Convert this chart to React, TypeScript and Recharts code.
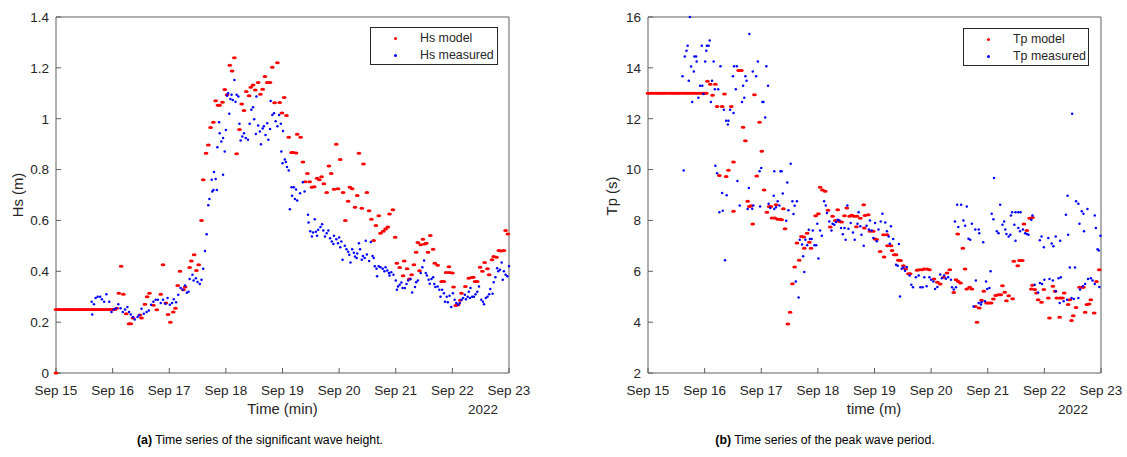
import { ScatterChart, Scatter, XAxis, YAxis } from "recharts";

// x values are days after Sep 15 00:00 (2022)
const DAY_TICKS = [0, 1, 2, 3, 4, 5, 6, 7, 8];
const DAY_LABELS = ["Sep 15", "Sep 16", "Sep 17", "Sep 18", "Sep 19", "Sep 20", "Sep 21", "Sep 22", "Sep 23"];
const HS_TICKS = [0, 0.2, 0.4, 0.6, 0.8, 1, 1.2, 1.4];
const TP_TICKS = [2, 4, 6, 8, 10, 12, 14, 16];

const hsModel: [number, number][] = [
  [0, 0], [0, 0.25], [0.04, 0.25], [0.08, 0.25], [0.13, 0.25], [0.17, 0.25], [0.21, 0.25], [0.25, 0.25], [0.29, 0.25],
  [0.33, 0.25], [0.38, 0.25], [0.42, 0.25], [0.46, 0.25], [0.5, 0.25], [0.54, 0.25], [0.58, 0.25], [0.63, 0.25],
  [0.67, 0.25], [0.71, 0.25], [0.75, 0.25], [0.79, 0.25], [0.83, 0.25], [0.88, 0.25], [0.92, 0.25], [0.96, 0.25],
  [1.0, 0.25], [1.04, 0.25], [1.07, 0.255], [1.11, 0.314], [1.15, 0.42], [1.19, 0.31], [1.24, 0.233], [1.29, 0.194],
  [1.32, 0.194], [1.36, 0.216], [1.48, 0.228], [1.51, 0.216], [1.57, 0.27], [1.61, 0.3], [1.65, 0.314], [1.72, 0.266],
  [1.78, 0.249], [1.85, 0.31], [1.89, 0.426], [1.94, 0.275], [1.98, 0.23], [2.02, 0.2], [2.07, 0.24], [2.11, 0.255],
  [2.15, 0.344], [2.19, 0.4], [2.25, 0.327], [2.28, 0.338], [2.36, 0.415], [2.39, 0.44], [2.44, 0.465], [2.48, 0.403],
  [2.52, 0.426], [2.57, 0.6], [2.6, 0.76], [2.65, 0.864], [2.69, 0.897], [2.73, 0.965], [2.78, 0.986], [2.82, 1.071],
  [2.86, 1.053], [2.89, 1.053], [2.94, 1.065], [2.98, 1.115], [3.02, 1.094], [3.07, 1.21], [3.11, 1.188], [3.15, 1.24],
  [3.19, 0.862], [3.24, 0.958], [3.28, 1.058], [3.32, 1.032], [3.36, 1.107], [3.41, 1.09], [3.44, 1.124], [3.48, 1.133],
  [3.52, 1.113], [3.57, 1.142], [3.61, 1.096], [3.65, 1.116], [3.69, 1.166], [3.73, 1.142], [3.78, 1.142], [3.82, 1.202],
  [3.86, 1.063], [3.91, 1.22], [3.95, 1.064], [3.99, 1.022], [4.03, 1.083], [4.07, 1.013], [4.11, 0.927], [4.16, 0.867],
  [4.19, 0.867], [4.24, 0.865], [4.26, 0.939], [4.32, 0.927], [4.36, 0.83], [4.4, 0.752], [4.44, 0.785], [4.48, 0.752],
  [4.52, 0.73], [4.56, 0.732], [4.61, 0.766], [4.65, 0.76], [4.69, 0.772], [4.73, 0.744], [4.78, 0.71], [4.82, 0.814],
  [4.86, 0.785], [4.91, 0.723], [4.95, 0.9], [4.98, 0.725], [5.02, 0.84], [5.07, 0.71], [5.11, 0.6], [5.16, 0.675],
  [5.19, 0.73], [5.23, 0.725], [5.28, 0.652], [5.32, 0.698], [5.35, 0.864], [5.4, 0.648], [5.43, 0.822], [5.49, 0.71],
  [5.53, 0.638], [5.57, 0.605], [5.61, 0.521], [5.65, 0.58], [5.7, 0.618], [5.73, 0.55], [5.78, 0.557], [5.82, 0.566],
  [5.86, 0.574], [5.89, 0.625], [5.95, 0.642], [5.99, 0.534], [6.02, 0.432], [6.07, 0.415], [6.13, 0.382], [6.15, 0.44],
  [6.2, 0.41], [6.24, 0.37], [6.28, 0.386], [6.32, 0.426], [6.36, 0.475], [6.39, 0.513], [6.42, 0.402], [6.44, 0.504],
  [6.48, 0.526], [6.51, 0.507], [6.54, 0.51], [6.57, 0.475], [6.61, 0.541], [6.66, 0.487], [6.69, 0.432], [6.74, 0.424],
  [6.81, 0.36], [6.85, 0.36], [6.89, 0.395], [6.94, 0.418], [6.95, 0.395], [7.0, 0.393], [7.02, 0.338], [7.06, 0.265],
  [7.1, 0.268], [7.14, 0.286], [7.16, 0.314], [7.23, 0.34], [7.29, 0.373], [7.34, 0.376], [7.37, 0.377], [7.4, 0.36],
  [7.44, 0.36], [7.49, 0.416], [7.53, 0.4], [7.57, 0.435], [7.62, 0.41], [7.65, 0.386], [7.7, 0.445], [7.73, 0.458],
  [7.78, 0.455], [7.82, 0.482], [7.86, 0.48], [7.91, 0.482], [7.94, 0.56], [7.98, 0.547],
];

const hsMeasured: [number, number][] = [
  [0.63, 0.28], [0.64, 0.23], [0.67, 0.27], [0.7, 0.295], [0.735, 0.3], [0.78, 0.3], [0.81, 0.29], [0.85, 0.28],
  [0.89, 0.31], [0.94, 0.28], [0.98, 0.24], [1.02, 0.25], [1.06, 0.255], [1.1, 0.27], [1.14, 0.255], [1.18, 0.24],
  [1.22, 0.25], [1.26, 0.26], [1.29, 0.24], [1.32, 0.23], [1.36, 0.22], [1.39, 0.21], [1.44, 0.22], [1.47, 0.227],
  [1.51, 0.253], [1.55, 0.233], [1.6, 0.24], [1.64, 0.246], [1.68, 0.268], [1.72, 0.28], [1.76, 0.288], [1.8, 0.288],
  [1.85, 0.275], [1.89, 0.288], [1.93, 0.272], [1.97, 0.295], [2.01, 0.268], [2.05, 0.275], [2.08, 0.29], [2.12, 0.278],
  [2.16, 0.308], [2.2, 0.334], [2.24, 0.327], [2.28, 0.344], [2.31, 0.316], [2.34, 0.32], [2.36, 0.37], [2.41, 0.386],
  [2.43, 0.364], [2.47, 0.373], [2.5, 0.358], [2.54, 0.35], [2.57, 0.367], [2.6, 0.41], [2.63, 0.48], [2.66, 0.546],
  [2.69, 0.66], [2.71, 0.684], [2.75, 0.76], [2.76, 0.714], [2.78, 0.72], [2.79, 0.79], [2.82, 0.763], [2.84, 0.72],
  [2.85, 0.888], [2.88, 0.986], [2.89, 0.943], [2.92, 0.91], [2.95, 0.924], [2.95, 0.78], [2.98, 0.871], [3.0, 0.956],
  [3.02, 1.09], [3.04, 1.1], [3.06, 1.02], [3.08, 1.078], [3.1, 1.094], [3.12, 1.074], [3.15, 1.152], [3.17, 1.067],
  [3.19, 1.094], [3.22, 1.087], [3.24, 0.98], [3.26, 0.914], [3.29, 0.93], [3.32, 0.943], [3.35, 0.924], [3.39, 0.917],
  [3.42, 0.98], [3.45, 1.035], [3.48, 1.045], [3.5, 0.998], [3.53, 0.94], [3.54, 1.087], [3.57, 0.973], [3.6, 0.95],
  [3.62, 0.9], [3.65, 0.962], [3.67, 0.97], [3.7, 0.936], [3.73, 0.982], [3.75, 0.917], [3.78, 0.96], [3.79, 1.07],
  [3.82, 1.015], [3.85, 1.021], [3.88, 0.99], [3.91, 0.97], [3.94, 1.015], [3.97, 0.98], [3.98, 0.871], [4.0, 0.825],
  [4.01, 0.952], [4.04, 0.84], [4.06, 0.83], [4.08, 0.81], [4.11, 0.796], [4.13, 0.644], [4.16, 0.73], [4.17, 0.697],
  [4.2, 0.73], [4.22, 0.684], [4.24, 0.722], [4.26, 0.678], [4.31, 0.707], [4.36, 0.75], [4.39, 0.714], [4.45, 0.622],
  [4.46, 0.592], [4.49, 0.557], [4.52, 0.537], [4.54, 0.553], [4.57, 0.605], [4.59, 0.555], [4.61, 0.54], [4.63, 0.563],
  [4.67, 0.574], [4.7, 0.585], [4.72, 0.56], [4.75, 0.537], [4.78, 0.55], [4.81, 0.56], [4.84, 0.53], [4.87, 0.517],
  [4.9, 0.507], [4.91, 0.54], [4.95, 0.526], [4.98, 0.51], [5.0, 0.533], [5.02, 0.495], [5.04, 0.517], [5.06, 0.445],
  [5.1, 0.5], [5.13, 0.487], [5.16, 0.477], [5.18, 0.465], [5.2, 0.435], [5.23, 0.487], [5.26, 0.473], [5.28, 0.458],
  [5.31, 0.452], [5.32, 0.47], [5.35, 0.51], [5.37, 0.487], [5.4, 0.445], [5.42, 0.46], [5.45, 0.452], [5.47, 0.52],
  [5.49, 0.466], [5.53, 0.44], [5.56, 0.515], [5.59, 0.46], [5.61, 0.452], [5.63, 0.42], [5.66, 0.41], [5.67, 0.38],
  [5.7, 0.42], [5.73, 0.416], [5.77, 0.41], [5.8, 0.4], [5.82, 0.416], [5.85, 0.403], [5.88, 0.393], [5.89, 0.383],
  [5.92, 0.396], [5.96, 0.386], [6.0, 0.364], [6.02, 0.327], [6.04, 0.34], [6.07, 0.347], [6.1, 0.356], [6.12, 0.334],
  [6.16, 0.334], [6.19, 0.35], [6.22, 0.364], [6.26, 0.37], [6.29, 0.317], [6.34, 0.338], [6.36, 0.357], [6.39, 0.364],
  [6.44, 0.393], [6.47, 0.416], [6.5, 0.442], [6.53, 0.393], [6.55, 0.383], [6.58, 0.367], [6.6, 0.351], [6.63, 0.37],
  [6.66, 0.377], [6.68, 0.35], [6.7, 0.338], [6.74, 0.34], [6.77, 0.327], [6.79, 0.3], [6.82, 0.327], [6.85, 0.314],
  [6.87, 0.28], [6.9, 0.3], [6.92, 0.278], [6.95, 0.304], [6.98, 0.26], [7.01, 0.314], [7.04, 0.288], [7.07, 0.275],
  [7.1, 0.268], [7.13, 0.275], [7.16, 0.288], [7.19, 0.295], [7.22, 0.308], [7.24, 0.29], [7.27, 0.3], [7.29, 0.32],
  [7.31, 0.295], [7.32, 0.334], [7.35, 0.3], [7.38, 0.3], [7.41, 0.31], [7.44, 0.32], [7.47, 0.34], [7.51, 0.288],
  [7.54, 0.28], [7.56, 0.27], [7.59, 0.295], [7.62, 0.3], [7.65, 0.31], [7.67, 0.33], [7.71, 0.312], [7.73, 0.357],
  [7.76, 0.377], [7.79, 0.412], [7.81, 0.4], [7.84, 0.406], [7.87, 0.435], [7.89, 0.367], [7.91, 0.4], [7.94, 0.386],
  [7.97, 0.38], [8.0, 0.42],
];

const tpModel: [number, number][] = [
  [0, 13], [0.04, 13], [0.08, 13], [0.13, 13], [0.17, 13], [0.21, 13], [0.25, 13], [0.29, 13], [0.33, 13], [0.38, 13],
  [0.42, 13], [0.46, 13], [0.5, 13], [0.54, 13], [0.58, 13], [0.63, 13], [0.67, 13], [0.71, 13], [0.75, 13], [0.79, 13],
  [0.83, 13], [0.88, 13], [0.92, 13], [0.96, 13], [1.0, 13], [1.03, 13],
  [1.05, 13.47], [1.1, 13.36], [1.14, 12.92], [1.19, 13.36], [1.22, 12.48], [1.26, 9.77], [1.31, 12.48], [1.35, 12.97],
  [1.38, 9.73], [1.42, 9.97], [1.47, 12.48], [1.51, 10.3], [1.51, 8.36], [1.6, 13.9], [1.65, 13.9], [1.68, 11.66],
  [1.72, 11.13], [1.76, 8.75], [1.79, 8.55], [1.82, 8.58], [1.85, 7.86], [1.88, 12.94], [1.92, 9.75], [1.97, 11.86],
  [2.01, 10.72], [2.05, 9.2], [2.1, 8.32], [2.14, 8.55], [2.17, 8.55], [2.19, 8.1], [2.24, 8.1], [2.26, 8.62],
  [2.29, 8.05], [2.34, 8.05], [2.36, 8.03], [2.39, 8.46], [2.42, 7.67], [2.47, 3.93], [2.51, 4.39], [2.55, 5.51],
  [2.59, 6.17], [2.63, 7.11], [2.67, 6.43], [2.71, 7.37], [2.75, 7.35], [2.76, 6.91], [2.81, 7.5], [2.85, 7.14],
  [2.88, 6.91], [2.96, 8.18], [3.01, 8.26], [3.04, 9.3], [3.08, 9.2], [3.13, 9.15], [3.18, 8.4], [3.22, 7.74],
  [3.26, 8.16], [3.31, 8.0], [3.35, 8.42], [3.38, 7.96], [3.42, 7.94], [3.47, 8.18], [3.51, 8.49], [3.56, 8.16],
  [3.6, 8.2], [3.64, 8.16], [3.68, 7.75], [3.69, 8.16], [3.75, 8.09], [3.81, 8.62], [3.82, 7.7], [3.83, 8.19],
  [3.89, 8.22], [3.92, 7.57], [3.98, 7.57], [4.01, 7.27], [4.04, 7.25], [4.1, 6.78], [4.16, 7.44], [4.17, 6.56],
  [4.22, 7.44], [4.23, 7.0], [4.29, 7.0], [4.31, 6.82], [4.35, 6.65], [4.38, 6.65], [4.42, 6.43], [4.46, 6.42],
  [4.51, 6.22], [4.55, 6.09], [4.6, 5.9], [4.63, 5.9], [4.75, 6.04], [4.79, 6.06], [4.84, 6.06], [4.88, 6.09],
  [4.93, 6.09], [4.97, 6.06], [5.05, 5.7], [5.11, 5.57], [5.16, 5.5], [5.22, 5.77], [5.28, 5.93], [5.33, 6.06],
  [5.4, 5.17], [5.44, 5.67], [5.47, 7.47], [5.48, 5.6], [5.52, 5.54], [5.56, 6.91], [5.6, 6.09], [5.63, 5.3],
  [5.68, 5.37], [5.72, 5.3], [5.78, 4.62], [5.81, 4.0], [5.85, 4.56], [5.89, 4.86], [5.93, 5.21], [5.98, 4.75],
  [6.02, 4.75], [6.06, 4.75], [6.1, 4.91], [6.14, 5.05], [6.19, 5.08], [6.23, 5.08], [6.26, 5.43], [6.3, 5.18],
  [6.33, 4.84], [6.37, 5.04], [6.44, 4.92], [6.46, 6.39], [6.53, 6.22], [6.56, 6.42], [6.61, 6.42], [6.64, 7.86],
  [6.69, 7.6], [6.74, 8.09], [6.77, 5.3], [6.79, 8.12], [6.79, 5.45], [6.83, 5.28], [6.86, 5.15], [6.89, 4.88],
  [6.95, 4.78], [6.99, 5.28], [7.07, 4.95], [7.09, 4.16], [7.15, 5.41], [7.19, 5.21], [7.22, 4.95], [7.27, 4.19],
  [7.28, 4.95], [7.32, 4.95], [7.35, 5.15], [7.42, 4.69], [7.45, 4.88], [7.48, 4.06], [7.51, 4.25], [7.56, 4.58],
  [7.62, 5.37], [7.66, 5.37], [7.69, 5.37], [7.72, 4.39], [7.75, 4.69], [7.79, 4.71], [7.82, 4.88], [7.88, 4.36],
  [7.92, 5.6], [7.97, 6.06],
];

const tpMeasured: [number, number][] = [
  [0.61, 13.67], [0.63, 9.96], [0.65, 14.45], [0.68, 14.67], [0.7, 14.87], [0.72, 13.49], [0.74, 16.0], [0.76, 14.05],
  [0.78, 12.66], [0.81, 13.86], [0.82, 14.45], [0.85, 14.45], [0.86, 14.25], [0.89, 12.82], [0.92, 13.3], [0.95, 14.87],
  [0.96, 13.3], [0.98, 12.97], [1.01, 14.25], [1.03, 14.67], [1.04, 14.87], [1.07, 14.87], [1.09, 15.08], [1.11, 12.66],
  [1.13, 13.49], [1.16, 14.25], [1.18, 13.16], [1.19, 10.15], [1.22, 9.86], [1.24, 13.16], [1.26, 8.32], [1.28, 14.06],
  [1.31, 9.08], [1.32, 8.38], [1.34, 12.35], [1.36, 6.43], [1.38, 11.92], [1.39, 8.99], [1.41, 11.77], [1.42, 11.92],
  [1.45, 12.35], [1.5, 13.67], [1.51, 12.22], [1.52, 14.06], [1.55, 13.16], [1.57, 14.06], [1.58, 9.55], [1.62, 8.59],
  [1.66, 12.66], [1.68, 13.3], [1.7, 12.82], [1.72, 13.67], [1.74, 13.49], [1.76, 8.45], [1.78, 9.28], [1.79, 15.33],
  [1.84, 8.46], [1.85, 13.86], [1.86, 8.59], [1.91, 13.67], [1.94, 14.25], [1.97, 9.93], [1.98, 8.55], [2.0, 10.06],
  [2.02, 12.66], [2.04, 12.66], [2.07, 12.05], [2.09, 14.06], [2.12, 13.3], [2.13, 8.66], [2.16, 8.49], [2.22, 8.97],
  [2.23, 9.93], [2.23, 8.45], [2.26, 8.52], [2.29, 8.75], [2.32, 8.59], [2.34, 9.93], [2.36, 9.93], [2.38, 9.06],
  [2.44, 7.99], [2.46, 9.49], [2.48, 8.4], [2.52, 10.23], [2.55, 8.75], [2.57, 8.25], [2.59, 8.58], [2.61, 5.6],
  [2.63, 8.75], [2.66, 4.97], [2.68, 7.24], [2.72, 7.05], [2.74, 6.59], [2.76, 5.97], [2.78, 7.24], [2.81, 7.02],
  [2.84, 7.63], [2.86, 7.27], [2.89, 7.27], [2.91, 7.6], [2.94, 7.02], [2.97, 7.02], [2.99, 7.87], [3.01, 6.5],
  [3.04, 7.6], [3.07, 7.4], [3.11, 8.75], [3.14, 8.59], [3.16, 8.29], [3.2, 7.96], [3.24, 7.6], [3.26, 7.87],
  [3.29, 7.83], [3.32, 7.94], [3.35, 8.03], [3.38, 8.0], [3.41, 7.7], [3.44, 7.46], [3.47, 7.7], [3.49, 7.24],
  [3.52, 8.59], [3.54, 7.67], [3.58, 7.9], [3.62, 7.53], [3.65, 7.24], [3.7, 7.87], [3.72, 8.32], [3.75, 7.77],
  [3.77, 7.44], [3.81, 7.0], [3.86, 7.79], [3.9, 7.64], [3.92, 8.0], [3.95, 7.6], [3.98, 7.31], [4.01, 7.9],
  [4.04, 7.18], [4.07, 7.64], [4.11, 7.96], [4.14, 8.26], [4.19, 7.92], [4.22, 7.57], [4.25, 7.37], [4.27, 7.08],
  [4.29, 7.77], [4.33, 7.27], [4.38, 6.26], [4.41, 6.22], [4.43, 7.07], [4.45, 5.01], [4.48, 6.1], [4.51, 6.15],
  [4.54, 6.02], [4.57, 6.17], [4.62, 5.83], [4.65, 5.47], [4.68, 5.37], [4.73, 5.77], [4.78, 5.83], [4.81, 5.37],
  [4.85, 5.37], [4.88, 5.77], [4.92, 5.41], [4.97, 5.77], [5.0, 5.67], [5.04, 5.6], [5.07, 5.3], [5.11, 5.38],
  [5.16, 5.87], [5.19, 5.73], [5.23, 5.83], [5.26, 5.71], [5.3, 5.77], [5.35, 5.67], [5.37, 5.37], [5.4, 5.28],
  [5.42, 7.96], [5.44, 5.37], [5.46, 8.62], [5.48, 7.74], [5.53, 8.62], [5.57, 8.0], [5.6, 7.79], [5.63, 8.55],
  [5.66, 7.28], [5.69, 7.24], [5.72, 7.87], [5.75, 4.62], [5.78, 7.64], [5.79, 5.64], [5.84, 7.64], [5.84, 4.75],
  [5.85, 7.5], [5.88, 4.69], [5.89, 4.78], [5.92, 7.14], [5.95, 4.82], [5.97, 5.6], [5.99, 5.3], [6.03, 5.34],
  [6.05, 6.0], [6.07, 8.26], [6.1, 8.05], [6.11, 9.67], [6.16, 7.57], [6.19, 7.5], [6.22, 8.62], [6.26, 7.83],
  [6.29, 7.96], [6.31, 7.64], [6.33, 7.47], [6.37, 7.37], [6.4, 7.44], [6.41, 8.19], [6.43, 8.32], [6.47, 7.83],
  [6.49, 8.32], [6.49, 7.2], [6.54, 8.32], [6.54, 7.7], [6.57, 7.57], [6.58, 8.32], [6.62, 7.64], [6.66, 7.5],
  [6.69, 7.47], [6.72, 7.44], [6.77, 8.03], [6.79, 8.19], [6.83, 5.47], [6.89, 5.17], [6.92, 7.22], [6.92, 5.54],
  [6.95, 7.37], [6.96, 5.5], [6.99, 6.95], [7.0, 5.67], [7.07, 7.31], [7.09, 5.7], [7.13, 7.09], [7.15, 5.64],
  [7.16, 6.98], [7.2, 7.37], [7.2, 5.21], [7.25, 5.73], [7.27, 4.75], [7.28, 7.2], [7.29, 5.77], [7.34, 4.82],
  [7.38, 8.22], [7.4, 4.88], [7.41, 8.97], [7.42, 7.44], [7.45, 6.15], [7.48, 4.95], [7.49, 12.2], [7.52, 4.91],
  [7.54, 6.15], [7.56, 8.75], [7.6, 8.66], [7.6, 4.95], [7.62, 7.87], [7.63, 5.28], [7.66, 8.36], [7.68, 5.41],
  [7.69, 8.26], [7.7, 7.57], [7.72, 5.5], [7.76, 8.45], [7.77, 5.7], [7.82, 5.73], [7.85, 5.64], [7.89, 8.19],
  [7.89, 5.5], [7.91, 7.7], [7.94, 6.87], [7.96, 6.82], [7.97, 5.38], [7.99, 7.4],
];

const RED = "#ff0000";
const BLUE = "#0000ff";
const AXIS = "#5e5e5e";
const INK = "#262626";

const toPoints = (rows: [number, number][]) => rows.map(([t, v]) => ({ t, v }));

const RedDash = (props: any) => <ellipse cx={props.cx} cy={props.cy} rx={2.4} ry={1.5} fill={RED} />;
const BlueDot = (props: any) => <circle cx={props.cx} cy={props.cy} r={1.25} fill={BLUE} />;

function LegendBox({ left, top, width, items }: { left: number; top: number; width: number; items: { name: string; color: string }[] }) {
  return (
    <div
      style={{
        position: "absolute",
        left,
        top,
        width,
        height: 38,
        border: `1px solid ${INK}`,
        background: "#fff",
        boxSizing: "border-box",
        fontSize: 12.4,
        color: INK,
      }}
    >
      {items.map((item, i) => (
        <div key={item.name} style={{ position: "absolute", left: 0, top: 3 + i * 17, height: 15, width: "100%" }}>
          <span
            style={{
              position: "absolute",
              left: 23,
              top: 6,
              width: 3,
              height: 3,
              borderRadius: "50%",
              background: item.color,
            }}
          />
          <span style={{ position: "absolute", left: 49, top: 0, lineHeight: "15px" }}>{item.name}</span>
        </div>
      ))}
    </div>
  );
}

function Panel({
  left,
  width,
  yAxisWidth,
  yTicks,
  yDomain,
  model,
  measured,
}: {
  left: number;
  width: number;
  yAxisWidth: number;
  yTicks: number[];
  yDomain: [number, number];
  model: [number, number][];
  measured: [number, number][];
}) {
  const tickStyle = { fill: INK, fontSize: 13.5 };
  return (
    <div style={{ position: "absolute", left, top: 0 }}>
      <ScatterChart width={width} height={400} margin={{ top: 16, right: width - yAxisWidth - 454, bottom: 1, left: 0 }}>
        <XAxis
          xAxisId="b"
          dataKey="t"
          type="number"
          domain={[0, 8]}
          ticks={DAY_TICKS}
          tickFormatter={(d: number) => DAY_LABELS[d]}
          tick={tickStyle}
          tickSize={-5}
          tickMargin={17}
          height={26}
          stroke={AXIS}
          interval={0}
        />
        <XAxis
          xAxisId="top"
          orientation="top"
          type="number"
          domain={[0, 8]}
          ticks={DAY_TICKS}
          tick={false}
          tickSize={-5}
          height={1}
          stroke={AXIS}
        />
        <YAxis
          yAxisId="l"
          dataKey="v"
          type="number"
          domain={yDomain}
          ticks={yTicks}
          tick={tickStyle}
          tickSize={-5}
          tickMargin={12}
          width={yAxisWidth}
          stroke={AXIS}
          interval={0}
        />
        <YAxis
          yAxisId="r"
          orientation="right"
          type="number"
          domain={yDomain}
          ticks={yTicks}
          tick={false}
          tickSize={-5}
          width={1}
          stroke={AXIS}
        />
        <Scatter xAxisId="b" yAxisId="l" data={toPoints(model)} shape={RedDash} isAnimationActive={false} />
        <Scatter xAxisId="b" yAxisId="l" data={toPoints(measured)} shape={BlueDot} isAnimationActive={false} />
      </ScatterChart>
    </div>
  );
}

const textBase: React.CSSProperties = { position: "absolute", color: INK, whiteSpace: "nowrap", lineHeight: "17px" };

export default function App() {
  return (
    <div
      style={{
        position: "absolute",
        left: 0,
        top: 0,
        width: 1127,
        height: 457,
        background: "#fff",
        fontFamily: "'Liberation Sans', Arial, sans-serif",
        overflow: "hidden",
      }}
    >
      <Panel left={0} width={545} yAxisWidth={56} yTicks={HS_TICKS} yDomain={[0, 1.4]} model={hsModel} measured={hsMeasured} />
      <Panel left={590} width={537} yAxisWidth={58} yTicks={TP_TICKS} yDomain={[2, 16]} model={tpModel} measured={tpMeasured} />

      <LegendBox left={370} top={27} width={128} items={[{ name: "Hs model", color: RED }, { name: "Hs measured", color: BLUE }]} />
      <LegendBox left={963} top={28} width={126} items={[{ name: "Tp model", color: RED }, { name: "Tp measured", color: BLUE }]} />

      <div style={{ ...textBase, left: 17.5, top: 195, fontSize: 14.85, transform: "translate(-50%, -50%) rotate(-90deg)" }}>Hs (m)</div>
      <div style={{ ...textBase, left: 612, top: 196, fontSize: 14.85, transform: "translate(-50%, -50%) rotate(-90deg)" }}>Tp (s)</div>

      <div style={{ ...textBase, left: 282.5, top: 401, fontSize: 14.85, transform: "translateX(-50%)" }}>Time (min)</div>
      <div style={{ ...textBase, left: 483, top: 401, fontSize: 13.5, transform: "translateX(-50%)" }}>2022</div>
      <div style={{ ...textBase, left: 874, top: 401, fontSize: 14.85, transform: "translateX(-50%)" }}>time (m)</div>
      <div style={{ ...textBase, left: 1073, top: 401, fontSize: 13.5, transform: "translateX(-50%)" }}>2022</div>

      <div style={{ ...textBase, left: 260, top: 432, fontSize: 12.3, color: "#000", transform: "translateX(-50%)" }}>
        <b>(a)</b> Time series of the significant wave height.
      </div>
      <div style={{ ...textBase, left: 825, top: 432, fontSize: 12.3, color: "#000", transform: "translateX(-50%)" }}>
        <b>(b)</b> Time series of the peak wave period.
      </div>
    </div>
  );
}
